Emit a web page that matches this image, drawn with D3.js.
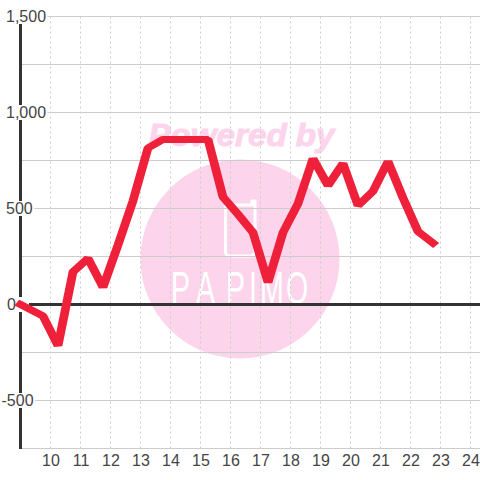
<!DOCTYPE html>
<html><head><meta charset="utf-8"><style>html,body{margin:0;padding:0;background:#fff}svg{display:block}text{font-family:"Liberation Sans",Arial,sans-serif}</style>
<script src="https://cdn.jsdelivr.net/npm/d3@7"></script></head><body><div id="c"></div>
<script>
const hours=[9,9.75,10.25,10.75,11.25,11.75,12.25,12.75,13.25,13.75,14.25,14.75,15.25,15.75,16.25,16.75,17.25,17.75,18.25,18.75,19.25,19.75,20.25,20.75,21.25,21.75,22.25,22.75];
const values=[0,-60,-215,170,240,90,310,540,815,860,860,860,860,560,470,375,115,375,525,760,620,735,515,590,745,555,380,320];
const xTicks=[10,11,12,13,14,15,16,17,18,19,20,21,22,23,24];
const yMajor=[1500,1000,500,0,-500];
const yMinor=[1250,750,250,-250,-750];
const W=480,H=480;
const x=d3.scaleLinear().domain([9,24]).range([20.5,470.5]);
const y=d3.scaleLinear().domain([-750,1500]).range([448.5,16.5]);
const svg=d3.select("#c").append("svg").attr("width",W).attr("height",H);
// watermark
const wm=svg.append("g");
wm.append("circle").attr("cx",240).attr("cy",259).attr("r",99.5).attr("fill","#fcd5ec");
wm.append("text").attr("x",241.5).attr("y",146).attr("text-anchor","middle").attr("font-size",32).attr("font-weight","bold").attr("font-style","italic").attr("fill","#fcd5ec").attr("stroke","#fcd5ec").attr("stroke-width",1).attr("textLength",186).attr("lengthAdjust","spacingAndGlyphs").text("Powered by");
wm.append("path").attr("d","M225.5 205V252Q225.5 256 230 256H250Q255 256 255 251V201H252V205Z").attr("fill","none").attr("stroke","#fff").attr("stroke-width",3).attr("stroke-linejoin","round");
const logoScale=0.62;
const logoX=[171,196,226,249,260,286].map(v=>v/logoScale).join(" ");
wm.append("text").attr("transform",`scale(${logoScale},1)`).attr("x",logoX).attr("y",304).attr("font-size",46).attr("fill","#fff").text("PAPIMO");
// grid
svg.append("g").selectAll("line").data(xTicks).join("line").attr("x1",d=>x(d)).attr("x2",d=>x(d)).attr("y1",y(1500)).attr("y2",y(-750)).attr("stroke","#ccc").attr("stroke-dasharray","2,3");
svg.append("g").selectAll("line").data(yMajor.concat(yMinor)).join("line").attr("x1",20).attr("x2",W).attr("y1",d=>y(d)).attr("y2",d=>y(d)).attr("stroke","#ccc");
// axes
svg.append("line").attr("x1",20.5).attr("x2",20.5).attr("y1",16).attr("y2",449).attr("stroke","#333").attr("stroke-width",3);
svg.append("line").attr("x1",20).attr("x2",W).attr("y1",y(0)).attr("y2",y(0)).attr("stroke","#333").attr("stroke-width",3);
// y labels
const fmt=d3.format(",");
const lab=svg.append("g").selectAll("g").data(yMajor).join("g");
lab.append("text").attr("x",d=>d<0?1.5:(d===0?7:6)).attr("y",d=>y(d)+5.5).attr("font-size",16).attr("fill","#444").text(d=>d<0?"-"+fmt(-d):fmt(d));
lab.each(function(){const t=d3.select(this).select("text"),b=t.node().getBBox();d3.select(this).insert("rect","text").attr("x",0).attr("y",b.y+1).attr("width",Math.max(b.x+b.width+1.5,29)).attr("height",b.height-2).attr("fill","#fff");});
// x labels
svg.append("g").selectAll("text").data(xTicks).join("text").attr("x",d=>x(d)+.5).attr("y",466).attr("text-anchor","middle").attr("font-size",16).attr("fill","#444").text(d=>d);
// line: the pen is wider horizontally than vertically, as in the reference
const penStretch=1.25;
const line=d3.line().x((d,i)=>x(hours[i])/penStretch).y(d=>y(d));
svg.append("path").datum(values).attr("d",line).attr("transform",`scale(${penStretch},1)`).attr("fill","none").attr("stroke","#ef2039").attr("stroke-width",7).attr("stroke-linejoin","bevel").attr("stroke-linecap","square");
</script></body></html>
